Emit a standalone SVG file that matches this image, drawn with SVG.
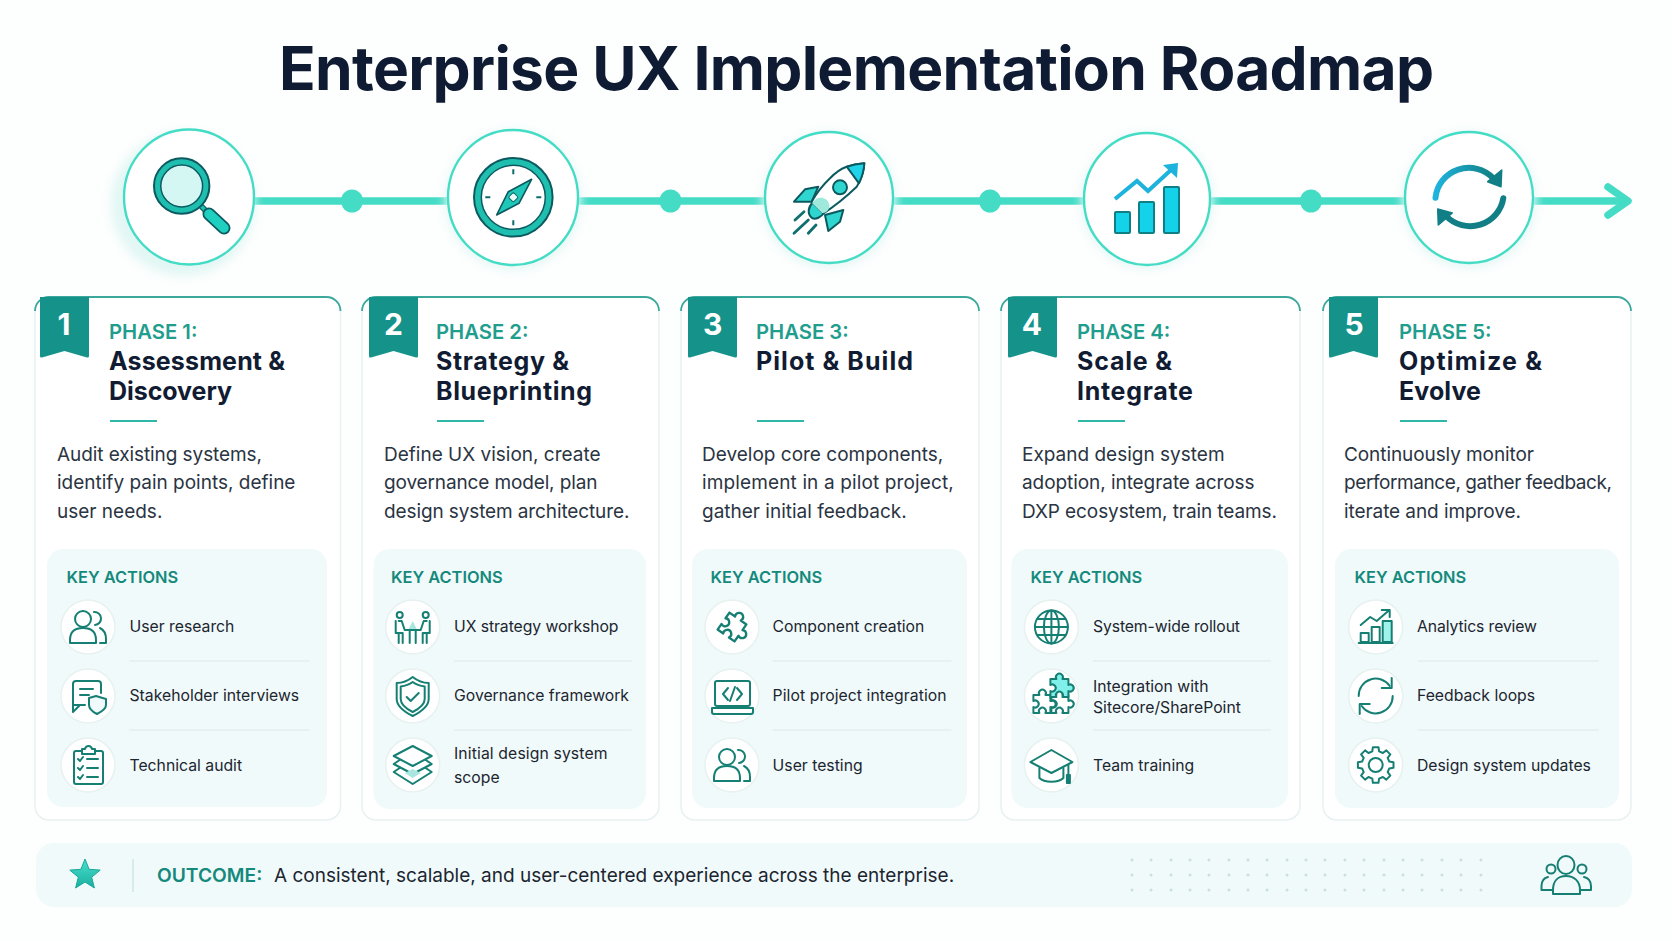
<svg xmlns="http://www.w3.org/2000/svg" width="1672" height="941" viewBox="0 0 1672 941" font-family="Inter, 'Liberation Sans', sans-serif">
<style>
.title{font-size:60.500px;font-weight:700;fill:#0f1b33;letter-spacing:-.7px}
.num{font-size:30px;font-weight:700;fill:#fff;text-anchor:middle}
.ph{font-size:20.300px;font-weight:600;fill:#1f9d8d}
.nm{font-size:25px;font-weight:700;fill:#111c33}
.desc{font-size:19px;font-weight:400;fill:#2a3442}
.ka{font-size:16.400px;font-weight:600;fill:#14897c}
.it{font-size:15.750px;font-weight:400;fill:#1c2530}
.card{fill:#fff;stroke:#e8f1f1;stroke-width:1.500}
.top{fill:none;stroke:#3aa99b;stroke-width:1.800}
.panel{fill:#f0fafa}
.rib{fill:#15938a}
.rule{stroke:#2fb8a8;stroke-width:2}
.sep{stroke:#dbe8e8;stroke-width:1.200}
.ic{fill:#fff;stroke:#e6f1f0;stroke-width:1.500}
.ln{fill:none;stroke:#167f74;stroke-width:2;stroke-linecap:round;stroke-linejoin:round}
.big{fill:#fff;stroke:#45dcc6;stroke-width:2.400}
.dot{fill:#45dcc6}
.dk{stroke:#0c5a60;stroke-width:2;stroke-linejoin:round}
</style>
<defs>
<filter id="soft" x="-30%" y="-30%" width="160%" height="160%"><feGaussianBlur stdDeviation="5"/></filter>
<linearGradient id="star" x1="0" y1="0" x2="0" y2="1"><stop offset="0" stop-color="#49e0cb"/><stop offset="1" stop-color="#1aae9f"/></linearGradient>
<linearGradient id="topArc" x1="0" y1="0" x2="1" y2="0"><stop offset="0" stop-color="#1fb4dd"/><stop offset="1" stop-color="#117f85"/></linearGradient>
<g id="i-users" class="ln"><circle cx="-5" cy="-8" r="8"/><path d="M-18 16v-3c0-8 5-12 13-12s13 4 13 12v3z"/><path d="M6-15a6.500 6.500 0 0 1 1 13M12 1c4 2 6 6 6 11v4h-6"/></g>
<g id="i-refresh" class="ln" stroke-width="2.500"><path d="M-17 0A17 17 0 0 1 14-10M17 0A17 17 0 0 1-14 10"/><path d="M16-18V-8H6M-16 18V8H-6"/></g>
<path id="piece" d="M-9-9H-3a3.500 3.500 0 1 1 6 0H9V-3a3.500 3.500 0 1 1 0 6V9H3a3.500 3.500 0 1 0-6 0H-9V3a3.500 3.500 0 1 0 0-6Z"/>
</defs>
<rect width="1672" height="941" fill="#fdfefe"/>
<g id="title"><text class="title" x="279" y="90">Enterprise UX Implementation Roadmap</text></g>

<g id="connectors">
<path d="M252 201H1622" stroke="#45dcc6" stroke-width="7.500" fill="none"/>
<path d="M1608 187L1628 201L1608 215" stroke="#45dcc6" stroke-width="7.500" fill="none" stroke-linecap="round" stroke-linejoin="round"/>
<ellipse class="dot" cx="352" cy="201" rx="11" ry="11.500"/>
<ellipse class="dot" cx="670.500" cy="201" rx="11" ry="11.500"/>
<ellipse class="dot" cx="990" cy="201" rx="11" ry="11.500"/>
<ellipse class="dot" cx="1311" cy="201" rx="11" ry="11.500"/>
</g>

<g id="node-discovery">
<ellipse cx="183" cy="204" rx="72" ry="72" fill="#e2f7f4" filter="url(#soft)"/>
<ellipse class="big" cx="189" cy="197" rx="65" ry="67.500"/>
<path d="M201 206L209 214" stroke="#0c5a60" stroke-width="6"/>
<path d="M201 206L209 214" stroke="#1fbfb0" stroke-width="3.500"/>
<path d="M209 214L224 228" stroke="#0c5a60" stroke-width="13" stroke-linecap="round"/>
<path d="M209 214L224 228" stroke="#1fd0c0" stroke-width="9.500" stroke-linecap="round"/>
<circle cx="181.700" cy="186" r="24.300" fill="#d5f7f3" stroke="#1fbfb0" stroke-width="6.800"/>
<circle cx="181.700" cy="186" r="27.700" fill="none" class="dk"/>
<circle cx="181.700" cy="186" r="20.900" fill="none" stroke="#0c5a60" stroke-width="1.500"/>
</g>
<g id="node-strategy">
<ellipse cx="513" cy="200" rx="68" ry="70" fill="#e4f8f5" filter="url(#soft)"/>
<ellipse class="big" cx="513" cy="197.500" rx="65" ry="67.500"/>
<g transform="translate(513.300 197.300)">
<circle r="35.700" fill="#fff" stroke="#1fbfb0" stroke-width="7"/>
<circle r="39.300" fill="none" class="dk"/>
<circle r="32" fill="none" stroke="#0c5a60" stroke-width="1.500"/>
<path d="M0-28V-23M0 23V28M-28 0H-23M23 0H28" stroke="#0c6a6a" stroke-width="2"/>
<path d="M18.300-18L5.700 6L-16.700 17.700L-5-5.600Z" fill="#1fc7b8" stroke="#0c5a60" stroke-width="1.600" stroke-linejoin="round"/>
<rect x="-3.500" y="-3.500" width="7" height="7" rx="1.500" fill="#e7fbf8" stroke="#0c6a6a" transform="rotate(45)"/>
</g>
</g>
<g id="node-pilot">
<ellipse cx="829" cy="200" rx="67" ry="68" fill="#e4f8f5" filter="url(#soft)"/>
<ellipse class="big" cx="829" cy="197.500" rx="64" ry="65.500"/>
<path d="M794 201.700L805 189.300L818.300 186.700L811.700 201.700Z" fill="#2fd6cf" class="dk"/>
<path d="M825 215L828.300 231L840 221.700L843.300 210Z" fill="#2fd6cf" class="dk"/>
<path d="M813 202C808 207 807 214 812 218C816 220 821 217 824 213Z" fill="#2fd6cf" class="dk"/>
<path d="M864.300 163.300C857 164 852 165 846.700 166.700C840 169 835 173 830 178.300C823 185 816 194 811.700 201.700L823.300 213.300C835 206 847 196 856.700 186.700C861 180 864 172 864.300 163.300Z" fill="#fff" class="dk"/>
<path d="M864.300 163.300C857 164 852 165 846.700 166.700L859 183.300C862 177 864 172 864.300 163.300Z" fill="#1fd3ea" class="dk"/>
<path d="M816 199C822 196 828 199 829 204C831 208 826 214 822 213L812 203Z" fill="#9fe8dc"/>
<circle cx="840" cy="187.300" r="7" fill="#2fd6cf" class="dk"/>
<path d="M804 211.700L795 220M808.300 220L794 233.300M816 225L808.300 233.300" stroke="#0f6e6e" stroke-width="2.800" stroke-linecap="round"/>
</g>
<g id="node-scale">
<ellipse cx="1147" cy="201" rx="66" ry="68" fill="#e4f8f5" filter="url(#soft)"/>
<ellipse class="big" cx="1147" cy="199" rx="63" ry="66"/>
<rect x="1115" y="212" width="15" height="21" rx="1" fill="#14d2ea" stroke="#0f7f86" stroke-width="2"/>
<rect x="1139" y="202" width="15" height="31" rx="1" fill="#14d2ea" stroke="#0f7f86" stroke-width="2"/>
<rect x="1164" y="187" width="15" height="46" rx="1" fill="#14d2ea" stroke="#0f7f86" stroke-width="2"/>
<path d="M1115 199L1137 181L1148 191L1172 169" fill="none" stroke="#1eb3dc" stroke-width="4"/>
<path d="M1163 165L1178 163L1177 178Z" fill="#1eb3dc"/>
</g>
<g id="node-optimize">
<ellipse cx="1469" cy="200" rx="67" ry="68" fill="#e4f8f5" filter="url(#soft)"/>
<ellipse class="big" cx="1469" cy="197.500" rx="64" ry="65.500"/>
<path d="M1435.500 197.700A33.500 33 0 0 1 1493.300 178.300" fill="none" stroke="url(#topArc)" stroke-width="6" stroke-linecap="round"/>
<path d="M1501.700 170L1501 186.700L1487.700 181.700Z" fill="#117f85" stroke="#117f85" stroke-width="1.500" stroke-linejoin="round"/>
<path d="M1503.300 198.300A33.500 33 0 0 1 1446 216" fill="none" stroke="#117f85" stroke-width="6" stroke-linecap="round"/>
<path d="M1437.700 209L1438.300 225L1452.300 213Z" fill="#117f85" stroke="#117f85" stroke-width="1.500" stroke-linejoin="round"/>
</g>

<g id="phase-1">
<rect class="card" x="35" y="297" width="305.500" height="523" rx="14"/>
<path class="top" d="M35 311a14 14 0 0 1 14-14H326.500a14 14 0 0 1 14 14"/>
<path class="rib" d="M40 297H89V356q0 2-2 1.500L64.500 351 42 357.500q-2 .5-2-1.500Z"/>
<text class="num" x="64" y="335">1</text>
<text class="ph" x="109" y="339">PHASE 1:</text>
<text class="nm" x="109" y="369.500" textLength="176">Assessment &amp;</text>
<text class="nm" x="109" y="399.500" textLength="123">Discovery</text>
<path class="rule" d="M110 421H157"/>
<text class="desc" x="57" y="461" textLength="205">Audit existing systems,</text>
<text class="desc" x="57" y="489">identify pain points, define</text>
<text class="desc" x="57" y="518">user needs.</text>
<rect class="panel" x="47" y="549" width="280" height="258" rx="16"/>
<text class="ka" x="66.500" y="583">KEY ACTIONS</text>
<path class="sep" d="M129.500 661H309.500M129.500 730H309.500"/>
<circle class="ic" cx="88" cy="627" r="27"/><use href="#i-users" x="88" y="627"/>
<circle class="ic" cx="88" cy="696" r="27"/>
<g class="ln" transform="translate(88 696)"><path d="M-15-12a3 3 0 0 1 3-3H10a3 3 0 0 1 3 3V-3M-3 9H-8L-15 16V10C-15 10-15 9-15 9Z"/><path d="M-15-12V9M-8-7H5M-8-1H1"/><path d="M8 0L18 3V9C18 13 13 16 9 18C5 16 1 13 1 9V2Z" fill="#f0fafa"/></g>
<circle class="ic" cx="88" cy="765" r="27"/>
<g class="ln" transform="translate(88 765)"><rect x="-14" y="-14" width="29" height="33" rx="2"/><path d="M-6-14V-16H-3C-2-20 3-20 4-16H7V-11H-6Z" fill="#fff"/><path d="M-10-6L-8-4-5-8M-1-6H10M-10 3L-8 5-5 1M-1 3H10M-10 12L-8 14-5 10M-1 12H10"/></g>
<text class="it" x="129.500" y="632">User research</text>
<text class="it" x="129.500" y="701">Stakeholder interviews</text>
<text class="it" x="129.500" y="771">Technical audit</text>
</g>

<g id="phase-2">
<rect class="card" x="362" y="297" width="297" height="523" rx="14"/>
<path class="top" d="M362 311a14 14 0 0 1 14-14H645a14 14 0 0 1 14 14"/>
<path class="rib" transform="translate(329)" d="M40 297H89V356q0 2-2 1.500L64.500 351 42 357.500q-2 .5-2-1.500Z"/>
<text class="num" x="393.500" y="335">2</text>
<text class="ph" x="436" y="339">PHASE 2:</text>
<text class="nm" x="436" y="369.500" textLength="133">Strategy &amp;</text>
<text class="nm" x="436" y="399.500" textLength="156">Blueprinting</text>
<path class="rule" d="M437 421H484"/>
<text class="desc" x="384" y="461">Define UX vision, create</text>
<text class="desc" x="384" y="489" textLength="213.400">governance model, plan</text>
<text class="desc" x="384" y="518" textLength="245.400">design system architecture.</text>
<rect class="panel" x="373.500" y="549" width="272.500" height="260" rx="16"/>
<text class="ka" x="391" y="583">KEY ACTIONS</text>
<path class="sep" d="M454 661H631.500M454 730H631.500"/>
<circle class="ic" cx="412.700" cy="627" r="27"/>
<g class="ln" transform="translate(412.700 627)" stroke-width="1.800"><circle cx="-13" cy="-12" r="3"/><circle cx="13" cy="-12" r="3"/><path d="M-8 3H8M-17-6V6H-10V16M-14-6H-11L-8 3M17-6V6H10V16M14-6H11L8 3M-3 3V16M3 3V16M-14 6V16M14 6V16"/><path d="M-4 2L0-6 4 2Z" fill="#a8e6df" stroke="none"/></g>
<circle class="ic" cx="412.700" cy="696" r="27"/>
<g class="ln" transform="translate(412.700 696)"><path d="M0-19C5-15 10-13 16-13V3C16 11 8 16 0 20C-8 16-16 11-16 3V-13C-10-13-5-15 0-19Z"/><path d="M0-14C4-11 8-10 12-9.500V3C12 9 6 13 0 16C-6 13-12 9-12 3V-9.500C-8-10-4-11 0-14Z"/><path d="M-6 1L-2 5 6-3"/></g>
<circle class="ic" cx="412.700" cy="765" r="27"/>
<g class="ln" transform="translate(412.700 765)"><path d="M0-19L19-9 0 1-19-9Z"/><path d="M-13-5L-19-1 0 9 19-1 13-5"/><path d="M-13 3L-19 7 0 19 19 7 13 3"/><path d="M-8 8L0 4 8 8 0 13Z" fill="#a8e6df" stroke="none"/></g>
<text class="it" x="454" y="632" textLength="164.500">UX strategy workshop</text>
<text class="it" x="454" y="701">Governance framework</text>
<text class="it" x="454" y="759" textLength="153.500">Initial design system</text>
<text class="it" x="454" y="783">scope</text>
</g>

<g id="phase-3">
<rect class="card" x="681" y="297" width="298" height="523" rx="14"/>
<path class="top" d="M681 311a14 14 0 0 1 14-14H965a14 14 0 0 1 14 14"/>
<path class="rib" transform="translate(648)" d="M40 297H89V356q0 2-2 1.500L64.500 351 42 357.500q-2 .5-2-1.500Z"/>
<text class="num" x="712.700" y="335">3</text>
<text class="ph" x="756" y="339">PHASE 3:</text>
<text class="nm" x="756" y="369.500" textLength="157">Pilot &amp; Build</text>
<path class="rule" d="M757 421H804"/>
<text class="desc" x="702" y="461">Develop core components,</text>
<text class="desc" x="702" y="489" textLength="251.800">implement in a pilot project,</text>
<text class="desc" x="702" y="518">gather initial feedback.</text>
<rect class="panel" x="692" y="549" width="275" height="259" rx="16"/>
<text class="ka" x="710.500" y="583">KEY ACTIONS</text>
<path class="sep" d="M772.600 661H951.400M772.600 730H951.400"/>
<circle class="ic" cx="732" cy="627" r="27"/>
<use href="#piece" class="ln" transform="translate(732 627) rotate(35) scale(1.150)"/>
<circle class="ic" cx="732" cy="696" r="27"/>
<g class="ln" transform="translate(732 696)"><rect x="-17" y="-15" width="35" height="25" rx="2"/><path d="M-20 12H21V16Q21 18 19 18H-18Q-20 18-20 16ZM-4-8L-9-2-4 4M5-8L10-2 5 4M3-9L-2 5"/></g>
<circle class="ic" cx="732" cy="765" r="27"/><use href="#i-users" x="732" y="765"/>
<text class="it" x="772.600" y="632">Component creation</text>
<text class="it" x="772.600" y="701" textLength="174">Pilot project integration</text>
<text class="it" x="772.600" y="771">User testing</text>
</g>

<g id="phase-4">
<rect class="card" x="1001" y="297" width="299" height="523" rx="14"/>
<path class="top" d="M1001 311a14 14 0 0 1 14-14H1286a14 14 0 0 1 14 14"/>
<path class="rib" transform="translate(968)" d="M40 297H89V356q0 2-2 1.500L64.500 351 42 357.500q-2 .5-2-1.500Z"/>
<text class="num" x="1032" y="335">4</text>
<text class="ph" x="1077" y="339">PHASE 4:</text>
<text class="nm" x="1077" y="369.500" textLength="95">Scale &amp;</text>
<text class="nm" x="1077" y="399.500" textLength="116">Integrate</text>
<path class="rule" d="M1078 421H1125"/>
<text class="desc" x="1022" y="461">Expand design system</text>
<text class="desc" x="1022" y="489" textLength="232.600">adoption, integrate across</text>
<text class="desc" x="1022" y="518" textLength="255">DXP ecosystem, train teams.</text>
<rect class="panel" x="1011.500" y="549" width="276.500" height="259" rx="16"/>
<text class="ka" x="1030.500" y="583">KEY ACTIONS</text>
<path class="sep" d="M1093 661H1271M1093 730H1271"/>
<circle class="ic" cx="1051.400" cy="627" r="27"/>
<g class="ln" transform="translate(1051.400 627)"><circle r="16.500"/><ellipse rx="7.500" ry="16.500"/><path d="M-16.500 0H16.500M-14-8H14M-14 8H14M0-16.500V16.500"/></g>
<circle class="ic" cx="1051.400" cy="696" r="27"/>
<g class="ln" transform="translate(1051.400 696)" stroke-width="1.800"><use href="#piece" transform="translate(-9 8)"/><use href="#piece" transform="translate(8 8)"/><use href="#piece" transform="translate(8-8)" fill="#7ff0ea"/></g>
<circle class="ic" cx="1051.400" cy="765" r="27"/>
<g class="ln" transform="translate(1051.400 765)"><path d="M0-15L21-3 0 8-21-3Z"/><path d="M-12 3V13C-7 18 7 18 12 13V3M17 0V14"/><rect x="15.500" y="10" width="3" height="8" fill="#167f74"/></g>
<text class="it" x="1093" y="632" textLength="147">System-wide rollout</text>
<text class="it" x="1093" y="692">Integration with</text>
<text class="it" x="1093" y="713">Sitecore/SharePoint</text>
<text class="it" x="1093" y="771">Team training</text>
</g>

<g id="phase-5">
<rect class="card" x="1323" y="297" width="308" height="523" rx="14"/>
<path class="top" d="M1323 311a14 14 0 0 1 14-14H1617a14 14 0 0 1 14 14"/>
<path class="rib" transform="translate(1289)" d="M40 297H89V356q0 2-2 1.500L64.500 351 42 357.500q-2 .5-2-1.500Z"/>
<text class="num" x="1354" y="335">5</text>
<text class="ph" x="1399" y="339">PHASE 5:</text>
<text class="nm" x="1399" y="369.500" textLength="143">Optimize &amp;</text>
<text class="nm" x="1399" y="399.500" textLength="82">Evolve</text>
<path class="rule" d="M1400 421H1447"/>
<text class="desc" x="1344" y="461" textLength="190">Continuously monitor</text>
<text class="desc" x="1344" y="489" textLength="268">performance, gather feedback,</text>
<text class="desc" x="1344" y="518" textLength="177">iterate and improve.</text>
<rect class="panel" x="1335" y="549" width="284" height="259" rx="16"/>
<text class="ka" x="1354.500" y="583">KEY ACTIONS</text>
<path class="sep" d="M1417.700 661H1598.700M1417.700 730H1598.700"/>
<circle class="ic" cx="1375.700" cy="627" r="27"/>
<g class="ln" transform="translate(1375.700 627)"><rect x="-15" y="6" width="8" height="9"/><rect x="-4" y="0" width="8" height="15"/><rect x="7" y="-6" width="9" height="21" fill="#9ff3ea"/><path d="M-17 16H17M-15-2L-5.500-10 1-6 12.500-16M6-17H14V-10"/></g>
<circle class="ic" cx="1375.700" cy="696" r="27"/><use href="#i-refresh" x="1375.700" y="696"/>
<circle class="ic" cx="1375.700" cy="765" r="27"/>
<g class="ln" transform="translate(1375.700 765)"><polygon points="13.600,-3.400 17.800,-2.800 17.800,2.800 13.600,3.400 12,7.200 14.600,10.600 10.600,14.600 7.200,12 3.400,13.600 2.800,17.800 -2.800,17.800 -3.400,13.600 -7.200,12 -10.600,14.600 -14.600,10.600 -12,7.200 -13.600,3.400 -17.800,2.800 -17.800,-2.800 -13.600,-3.400 -12,-7.200 -14.600,-10.600 -10.600,-14.600 -7.200,-12 -3.400,-13.600 -2.800,-17.800 2.800,-17.800 3.400,-13.600 7.200,-12 10.600,-14.600 14.600,-10.600 12,-7.200"/><circle r="7"/></g>
<text class="it" x="1417" y="632" textLength="120">Analytics review</text>
<text class="it" x="1417" y="701">Feedback loops</text>
<text class="it" x="1417" y="771">Design system updates</text>
</g>

<g id="outcome">
<rect x="36" y="843" width="1596" height="64" rx="18" fill="#f0fafa"/>
<polygon points="85,859 89.100,869.300 100.200,870.100 91.700,877.200 94.400,888 85,882 75.600,888 78.300,877.200 69.800,870.100 80.900,869.300" fill="url(#star)" stroke="#17a99a"/>
<path d="M133 859V892" stroke="#cfe6e3" stroke-width="1.500"/>
<text x="157" y="882" font-size="19.200" font-weight="600" fill="#14897c">OUTCOME:</text>
<text x="274" y="882" font-size="19" fill="#1c2530">A consistent, scalable, and user-centered experience across the enterprise.</text>
<g fill="#c9e0dd">
<g id="dots-a"><circle cx="1132" cy="860" r="1.500"/><circle cx="1151" cy="860" r="1.500"/><circle cx="1171" cy="860" r="1.500"/><circle cx="1190" cy="860" r="1.500"/><circle cx="1209" cy="860" r="1.500"/><circle cx="1229" cy="860" r="1.500"/><circle cx="1248" cy="860" r="1.500"/><circle cx="1267" cy="860" r="1.500"/><circle cx="1287" cy="860" r="1.500"/><circle cx="1306" cy="860" r="1.500"/><circle cx="1325" cy="860" r="1.500"/><circle cx="1345" cy="860" r="1.500"/><circle cx="1364" cy="860" r="1.500"/><circle cx="1384" cy="860" r="1.500"/><circle cx="1403" cy="860" r="1.500"/><circle cx="1422" cy="860" r="1.500"/><circle cx="1442" cy="860" r="1.500"/><circle cx="1461" cy="860" r="1.500"/><circle cx="1481" cy="860" r="1.500"/></g>
<use href="#dots-a" y="15"/><use href="#dots-a" y="30"/>
</g>
<g class="ln" stroke-width="2.200"><ellipse cx="1566" cy="865" rx="8.500" ry="9"/><circle cx="1551" cy="869" r="4.500"/><circle cx="1582" cy="869" r="4.500"/><path d="M1553 894V890C1553 881 1558 876 1566 876S1580 881 1580 890V894Z"/><path d="M1552 890H1541.500V886C1541.500 881 1544 878 1548 877M1580 890H1591V886C1591 881 1588 878 1584 877"/></g>
</g>
</svg>
